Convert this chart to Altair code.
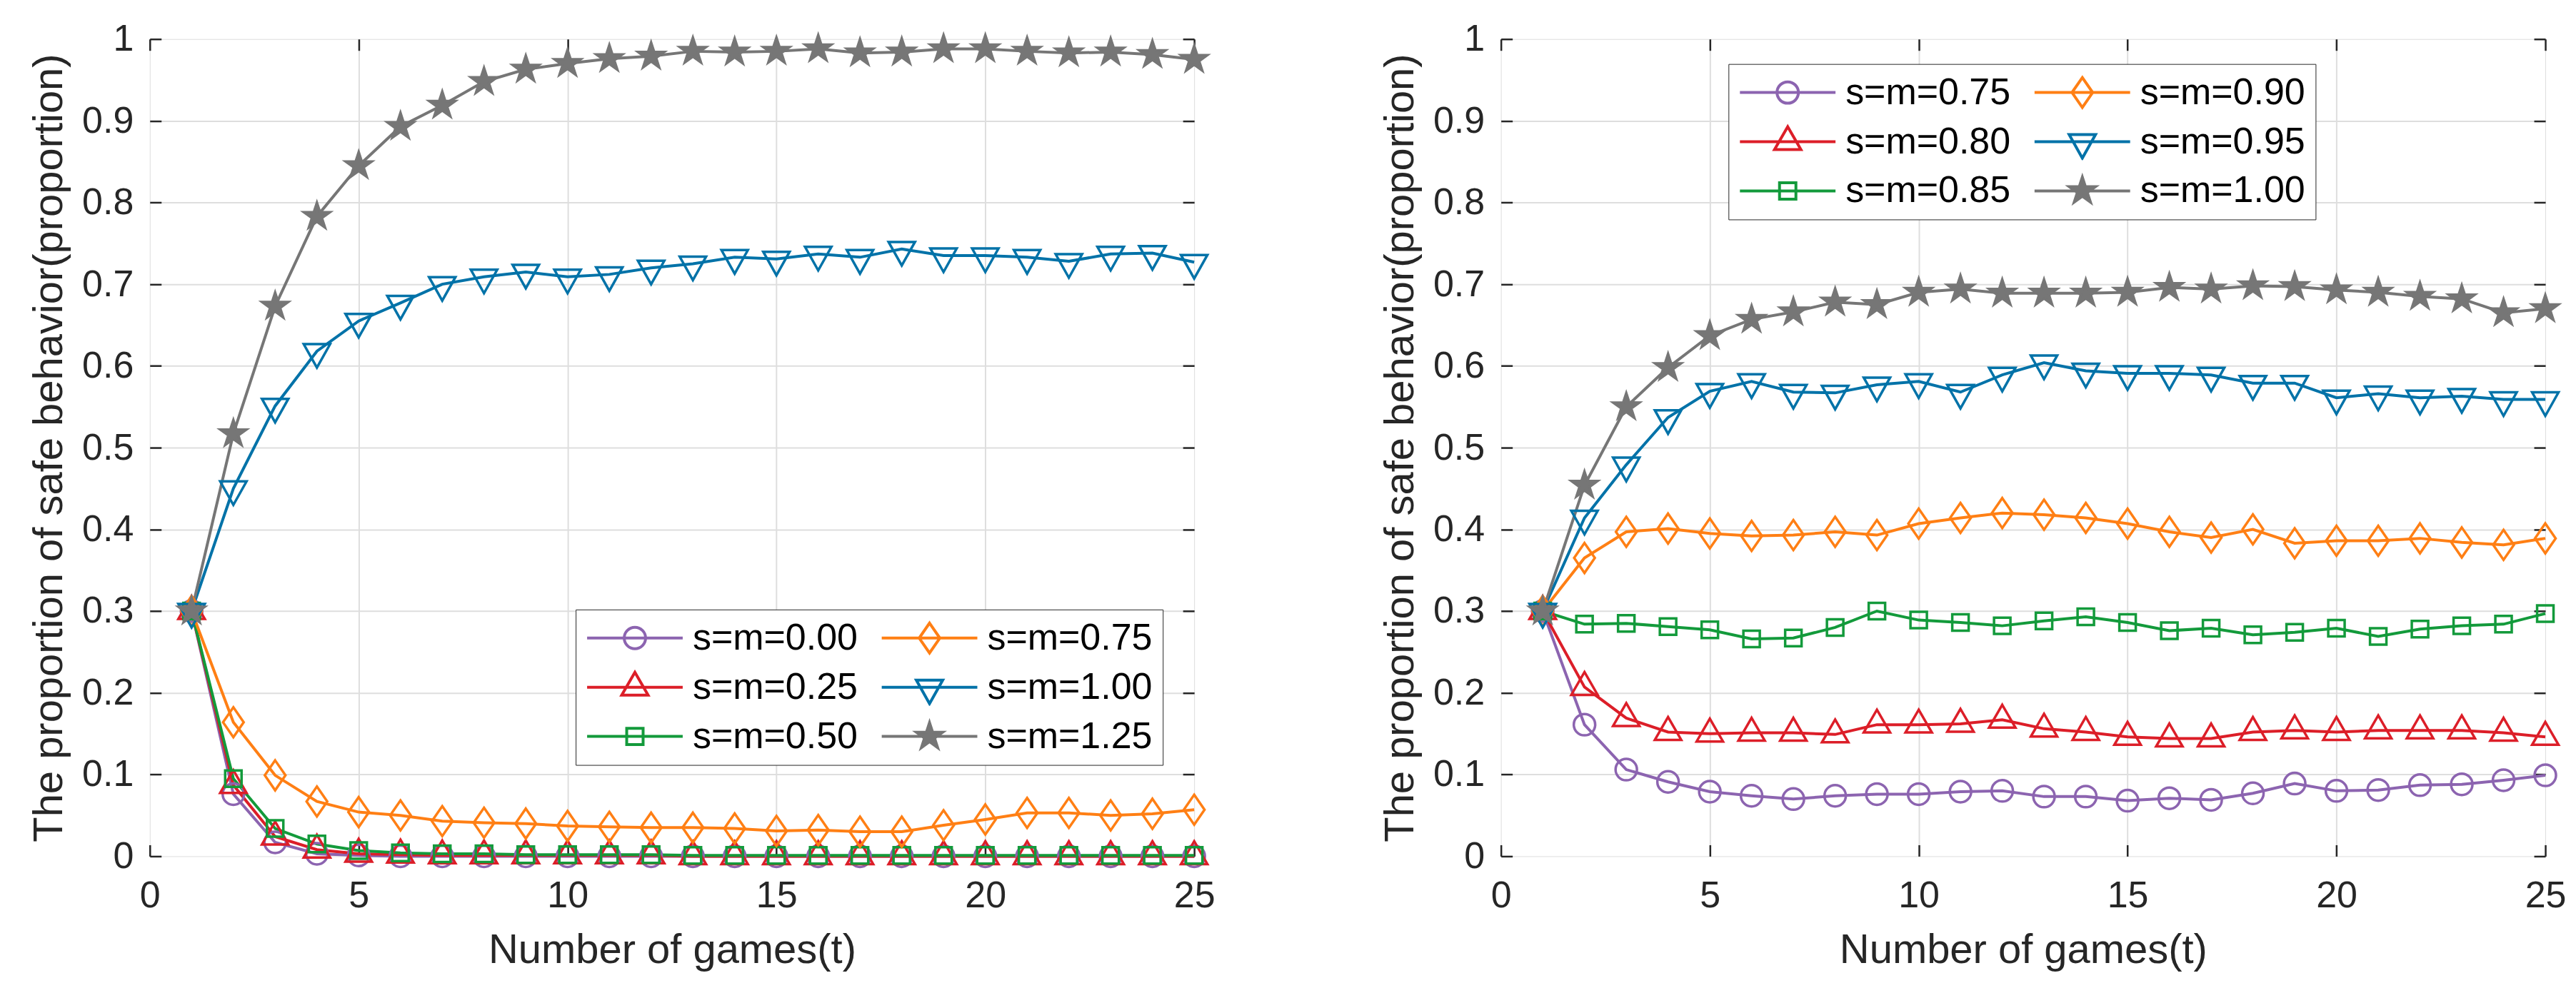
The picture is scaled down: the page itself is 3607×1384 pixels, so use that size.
import math
import altair as alt
import pandas as pd

# ---------------- data ----------------
T = list(range(1, 26))

L_LABELS = ["s=m=0.00", "s=m=0.25", "s=m=0.50", "s=m=0.75", "s=m=1.00", "s=m=1.25"]
L_000 = [0.300, 0.076, 0.017, 0.003, 0.001, 0.000, 0.000, 0.000, 0.000, 0.000,
         0.000, 0.000, 0.000, 0.000, 0.000, 0.000, 0.000, 0.000, 0.000, 0.000,
         0.000, 0.000, 0.000, 0.000, 0.000]
L_025 = [0.300, 0.087, 0.024, 0.008, 0.003, 0.002, 0.001, 0.001, 0.001, 0.001,
         0.001, 0.001, 0.000, 0.000, 0.000, 0.000, 0.000, 0.000, 0.000, 0.000,
         0.000, 0.000, 0.000, 0.000, 0.000]
L_050 = [0.300, 0.095, 0.034, 0.015, 0.007, 0.004, 0.003, 0.003, 0.002, 0.002,
         0.002, 0.002, 0.001, 0.001, 0.001, 0.001, 0.001, 0.001, 0.001, 0.001,
         0.001, 0.001, 0.001, 0.001, 0.001]
L_075 = [0.300, 0.164, 0.099, 0.067, 0.054, 0.050, 0.043, 0.041, 0.040, 0.037,
         0.036, 0.035, 0.035, 0.034, 0.031, 0.032, 0.030, 0.030, 0.038, 0.045,
         0.053, 0.053, 0.050, 0.052, 0.057]
L_100 = [0.300, 0.450, 0.551, 0.618, 0.655, 0.677, 0.700, 0.709, 0.715, 0.709,
         0.712, 0.720, 0.725, 0.733, 0.731, 0.737, 0.733, 0.743, 0.735, 0.735,
         0.733, 0.728, 0.737, 0.738, 0.727]
L_125 = [0.300, 0.517, 0.673, 0.783, 0.845, 0.893, 0.919, 0.948, 0.963, 0.970,
         0.976, 0.979, 0.985, 0.984, 0.985, 0.988, 0.983, 0.984, 0.988, 0.988,
         0.985, 0.983, 0.984, 0.981, 0.975]

R_LABELS = ["s=m=0.75", "s=m=0.80", "s=m=0.85", "s=m=0.90", "s=m=0.95", "s=m=1.00"]
R_075 = [0.300, 0.161, 0.106, 0.091, 0.079, 0.074, 0.070, 0.074, 0.076, 0.076,
         0.079, 0.080, 0.073, 0.073, 0.068, 0.071, 0.069, 0.077, 0.089, 0.080,
         0.081, 0.087, 0.088, 0.093, 0.099]
R_080 = [0.300, 0.207, 0.169, 0.152, 0.150, 0.151, 0.151, 0.149, 0.161, 0.161,
         0.162, 0.167, 0.156, 0.152, 0.146, 0.144, 0.144, 0.152, 0.154, 0.152,
         0.154, 0.154, 0.154, 0.151, 0.146]
R_085 = [0.300, 0.284, 0.285, 0.281, 0.277, 0.266, 0.267, 0.280, 0.300, 0.289,
         0.286, 0.282, 0.288, 0.293, 0.286, 0.276, 0.279, 0.271, 0.274, 0.279,
         0.269, 0.278, 0.282, 0.284, 0.297]
R_090 = [0.300, 0.365, 0.397, 0.401, 0.395, 0.392, 0.393, 0.397, 0.393, 0.407,
         0.414, 0.420, 0.418, 0.414, 0.407, 0.397, 0.390, 0.400, 0.383, 0.386,
         0.386, 0.389, 0.384, 0.381, 0.389]
R_095 = [0.300, 0.414, 0.479, 0.537, 0.569, 0.581, 0.568, 0.567, 0.577, 0.581,
         0.568, 0.589, 0.604, 0.594, 0.591, 0.591, 0.589, 0.579, 0.579, 0.561,
         0.566, 0.561, 0.563, 0.559, 0.559]
R_100 = [0.300, 0.454, 0.550, 0.598, 0.637, 0.657, 0.666, 0.678, 0.675, 0.690,
         0.694, 0.689, 0.689, 0.689, 0.690, 0.696, 0.694, 0.698, 0.697, 0.693,
         0.690, 0.685, 0.682, 0.665, 0.670]

X_TICKS = [0, 5, 10, 15, 20, 25]
Y_TICKS = [0, 0.1, 0.2, 0.3, 0.4, 0.5, 0.6, 0.7, 0.8, 0.9, 1]
X_TITLE = "Number of games(t)"
Y_TITLE = "The proportion of safe behavior(proportion)"

# ---------------- style ----------------
COLORS = ["#8C64B0", "#DC1E28", "#139A3B", "#FF7F14", "#0072A8", "#767676"]
FILLS = ["transparent", "transparent", "transparent", "transparent", "transparent", "#767676"]
FONT = "Liberation Sans"
DARK = "#262626"
GRID = "#dedede"
PLOT_W, PLOT_H = 1464, 1146
MARK_SIZE = 1600                  # 1 path unit = 20 px
LEG_LEN = 134
LEG_SIZE = LEG_LEN * LEG_LEN       # 1 path unit = 67 px


def circle(k, r=0.75):
    r = r * k
    return f"M{-r:.4f},0A{r:.4f},{r:.4f},0,1,1,{r:.4f},0A{r:.4f},{r:.4f},0,1,1,{-r:.4f},0Z"


def poly(pts, k):
    return "M" + "L".join(f"{x * k:.4f},{y * k:.4f}" for x, y in pts) + "Z"


UP = [(0, -1.05), (0.925, 0.55), (-0.925, 0.55)]
DOWN = [(-0.925, -0.5), (0.925, -0.5), (0, 1.15)]
SQ = [(-0.575, -0.575), (0.575, -0.575), (0.575, 0.575), (-0.575, 0.575)]
DIA = [(0, -1.05), (0.725, 0), (0, 1.05), (-0.725, 0)]
STAR = []
for i in range(10):
    rr = 0.965 if i % 2 == 0 else 0.369
    STAR.append((rr * math.sin(i * math.pi / 5), -rr * math.cos(i * math.pi / 5)))


def shapes(k):
    return [circle(k), poly(UP, k), poly(SQ, k), poly(DIA, k), poly(DOWN, k), poly(STAR, k)]


PLOT_SHAPES = shapes(1.0)
kk = 20.0 / (LEG_LEN / 2.0)
LEG_SHAPES = ["M-1,0L1,0" + p for p in shapes(kk)]

grid_x = {"condition": {"test": "datum.value === 0 || datum.value === 25", "value": "transparent"},
          "value": GRID}
grid_y = {"condition": {"test": "datum.value === 0 || datum.value === 1", "value": "transparent"},
          "value": GRID}

common_axis = dict(labelFont=FONT, labelFontSize=52, labelColor=DARK, titleFont=FONT,
                   titleFontSize=58, titleFontWeight="normal", titleColor=DARK,
                   tickColor=DARK, tickWidth=2.5, tickSize=16, offset=-16, domain=False,
                   labelFlush=False, labelOverlap=False)

axis_bottom = alt.Axis(orient="bottom", values=X_TICKS, title=X_TITLE, grid=True,
                       gridColor=grid_x, gridWidth=2, labelPadding=30, titlePadding=22,
                       format="~g", **common_axis)
axis_left = alt.Axis(orient="left", values=Y_TICKS, title=Y_TITLE, grid=True,
                     gridColor=grid_y, gridWidth=2, labelPadding=23, titlePadding=16,
                     format="~g", **common_axis)
axis_top = alt.Axis(orient="top", values=X_TICKS, title=None, grid=False, labels=False,
                    tickColor=DARK, tickWidth=2.5, tickSize=16, offset=-16, domain=False)
axis_right = alt.Axis(orient="right", values=Y_TICKS, title=None, grid=False, labels=False,
                      tickColor=DARK, tickWidth=2.5, tickSize=16, offset=-16, domain=False)

xs = alt.Scale(domain=[0, 25], nice=False, zero=False)
ys = alt.Scale(domain=[0, 1], nice=False)


def panel(labels, series, legend_x, legend_y):
    rows = []
    for lab, vals in zip(labels, series):
        for t, v in zip(T, vals):
            rows.append({"t": t, "v": v, "series": lab})
    df = pd.DataFrame(rows)
    order = list(labels)   # legend fills column by column
    color_scale = alt.Scale(domain=order, range=COLORS)
    shape_plot = alt.Scale(domain=order, range=PLOT_SHAPES)
    shape_leg = alt.Scale(domain=order, range=LEG_SHAPES)
    fill_scale = alt.Scale(domain=order, range=FILLS)

    leg = alt.Legend(orient="none", legendX=legend_x, legendY=legend_y, columns=2,
                     title=None, labelFont=FONT, labelFontSize=52, labelColor="#000000",
                     labelLimit=1000, labelOffset=12, symbolSize=LEG_SIZE,
                     symbolStrokeWidth=4, symbolOpacity=1, clipHeight=52,
                     rowPadding=17, columnPadding=31, padding=14,
                     strokeColor=DARK, fillColor="white")

    base = alt.Chart(df)
    lines = base.mark_line(strokeWidth=4).encode(
        x=alt.X("t:Q", scale=xs, axis=axis_bottom),
        y=alt.Y("v:Q", scale=ys, axis=axis_left),
        color=alt.Color("series:N", scale=color_scale, legend=None),
        detail="series:N",
    )
    pts = base.mark_point(filled=False, size=MARK_SIZE, strokeWidth=3.5, opacity=1).encode(
        x=alt.X("t:Q", scale=xs, axis=axis_top),
        y=alt.Y("v:Q", scale=ys, axis=axis_right),
        color=alt.Color("series:N", scale=color_scale, legend=None),
        shape=alt.Shape("series:N", scale=shape_plot, legend=None),
        fill=alt.Fill("series:N", scale=fill_scale, legend=None),
    )
    legend_layer = base.transform_filter("datum.t == 1").mark_point(
        filled=False, size=LEG_SIZE, strokeWidth=4, opacity=0).encode(
        x=alt.X("t:Q", scale=xs, axis=None),
        y=alt.Y("v:Q", scale=ys, axis=None),
        color=alt.Color("series:N", scale=color_scale, legend=leg),
        shape=alt.Shape("series:N", scale=shape_leg, legend=leg),
        fill=alt.Fill("series:N", scale=fill_scale, legend=leg),
    )
    return alt.layer(lines, pts, legend_layer).resolve_scale(
        color="independent", shape="independent", fill="independent"
    ).resolve_axis(x="independent", y="independent").properties(width=PLOT_W, height=PLOT_H)


left = panel(L_LABELS, [L_000, L_025, L_050, L_075, L_100, L_125], 597, 800)
right = panel(R_LABELS, [R_075, R_080, R_085, R_090, R_095, R_100], 319, 35)

chart = alt.hconcat(left, right, spacing=230).properties(
    padding={"left": 32, "top": 19, "right": 5, "bottom": 5}
).configure_view(stroke=DARK, strokeWidth=2.5).configure(background="white")

chart.save("out.html", embed_options={"renderer": "svg", "actions": False})
